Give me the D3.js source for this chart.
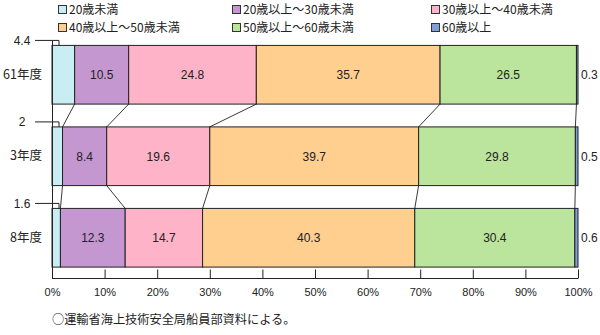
<!DOCTYPE html>
<html>
<head>
<meta charset="utf-8">
<script src="https://cdn.jsdelivr.net/npm/d3@7"></script>
<style>
  html, body { margin: 0; padding: 0; background: #fff; }
  svg { display: block; }
  .jp { font-family: "Noto Sans CJK JP", "Noto Sans", sans-serif; }
  .num { font-family: "Liberation Sans", Arial, sans-serif; }
</style>
</head>
<body>
<svg id="chart" width="600" height="335"></svg>
<script>
// Age composition of crew members by survey year (percent)
const categories = ["61年度", "3年度", "8年度"];
const seriesNames = ["20歳未満", "20歳以上～30歳未満", "30歳以上～40歳未満",
                     "40歳以上～50歳未満", "50歳以上～60歳未満", "60歳以上"];
const under20  = [4.4, 2, 1.6];
const age20s   = [10.5, 8.4, 12.3];
const age30s   = [24.8, 19.6, 14.7];
const age40s   = [35.7, 39.7, 40.3];
const age50s   = [26.5, 29.8, 30.4];
const over60   = [0.3, 0.5, 0.6];
const tickLabels = ["0%", "10%", "20%", "30%", "40%", "50%", "60%", "70%", "80%", "90%", "100%"];
const sourceNote = "○運輸省海上技術安全局船員部資料による。";

const colors = ["#c8eef4", "#c597d0", "#ffb3c8", "#ffcf90", "#bbe49c", "#7f9fd6"];
const seriesValues = [under20, age20s, age30s, age40s, age50s, over60];

// one row object per year, keyed by series index
const rows = categories.map((c, i) => {
  const r = { cat: c };
  seriesValues.forEach((vals, k) => { r[k] = vals[i]; });
  return r;
});
const keys = seriesNames.map((_, k) => k);
const stacked = d3.stack().keys(keys).offset(d3.stackOffsetExpand)(rows);

const svg = d3.select("#chart");
const x = d3.scaleLinear().domain([0, 1]).range([52, 578]);
const y = d3.scaleBand().domain(categories).range([34, 278.5])
  .paddingInner(0.28).paddingOuter(0.14);
const axisY = 278.5;

// legend
const legendCols = [58, 232, 431];
const legendRows = [10, 28];
const legend = svg.append("g");
seriesNames.forEach((name, k) => {
  const lx = legendCols[k % 3], ly = legendRows[Math.floor(k / 3)];
  legend.append("rect").attr("x", lx + 0.5).attr("y", ly - 4.5)
    .attr("width", 8).attr("height", 8)
    .attr("fill", colors[k]).attr("stroke", "#333").attr("stroke-width", 1);
  legend.append("text").attr("class", "jp")
    .attr("x", lx + 11).attr("y", ly).attr("dy", "0.36em")
    .attr("font-size", 12).attr("fill", "#222").text(name);
});

// bars
const layer = svg.append("g").selectAll("g").data(stacked).join("g")
  .attr("fill", d => colors[d.key]);
layer.selectAll("rect").data(d => d).join("rect")
  .attr("x", d => x(d[0]))
  .attr("y", d => y(d.data.cat))
  .attr("width", d => x(d[1]) - x(d[0]))
  .attr("height", y.bandwidth())
  .attr("stroke", "#222").attr("stroke-width", 1);

// series lines joining segment boundaries of neighbouring bars
const series = svg.append("g").attr("stroke", "#222").attr("stroke-width", 0.9).attr("fill", "none");
stacked.slice(0, -1).forEach(s => {
  for (let i = 0; i < s.length - 1; i++) {
    series.append("line")
      .attr("x1", x(s[i][1])).attr("y1", y(s[i].data.cat) + y.bandwidth())
      .attr("x2", x(s[i + 1][1])).attr("y2", y(s[i + 1].data.cat));
  }
});

// value labels inside the middle segments
stacked.slice(1, 5).forEach(s => {
  svg.append("g").selectAll("text").data(s).join("text")
    .attr("class", "num")
    .attr("x", d => (x(d[0]) + x(d[1])) / 2)
    .attr("y", d => y(d.data.cat) + y.bandwidth() / 2)
    .attr("dy", "0.36em").attr("text-anchor", "middle")
    .attr("font-size", 12).attr("fill", "#222")
    .text(d => d.data[s.key]);
});

// under-20 labels on the left with leader lines
const first = stacked[0];
first.forEach(d => {
  const top = y(d.data.cat);
  const ly = top - 5;
  svg.append("text").attr("class", "num")
    .attr("x", 22).attr("y", ly).attr("dy", "0.36em")
    .attr("text-anchor", "middle").attr("font-size", 12).attr("fill", "#222")
    .text(d.data[0]);
  svg.append("path")
    .attr("d", `M35,${ly}H59V${top}`)
    .attr("fill", "none").attr("stroke", "#222").attr("stroke-width", 1);
});

// 60+ labels on the right
stacked[5].forEach(d => {
  svg.append("text").attr("class", "num")
    .attr("x", 581).attr("y", y(d.data.cat) + y.bandwidth() / 2)
    .attr("dy", "0.36em").attr("font-size", 12).attr("fill", "#222")
    .text(d.data[5]);
});

// category axis
const yAxis = svg.append("g").attr("transform", "translate(52,0)")
  .call(d3.axisLeft(y).tickSize(0).tickPadding(10));
yAxis.select(".domain").remove();
yAxis.selectAll("text").attr("class", "jp").attr("font-size", 12.5).attr("fill", "#222");
svg.append("line").attr("x1", 52.5).attr("x2", 52.5)
  .attr("y1", y.range()[0] + 7).attr("y2", axisY)
  .attr("stroke", "#222").attr("stroke-width", 1);

// percentage axis
const xAxis = svg.append("g").attr("transform", `translate(0,${axisY})`)
  .call(d3.axisBottom(x).tickValues(d3.range(0, 1.0001, 0.1))
    .tickFormat((d, i) => tickLabels[i]).tickSize(-9).tickPadding(10));
xAxis.select(".domain").attr("stroke", "#222").attr("d", `M${x(0)},0H${x(1)}`);
xAxis.selectAll(".tick line").attr("stroke", "#222");
xAxis.selectAll("text").attr("class", "num").attr("font-size", 11).attr("fill", "#222");

// source note
svg.append("text").attr("class", "jp")
  .attr("x", 52).attr("y", 320).attr("dy", "0.36em")
  .attr("font-size", 12.2).attr("fill", "#222").text(sourceNote);
</script>
</body>
</html>
